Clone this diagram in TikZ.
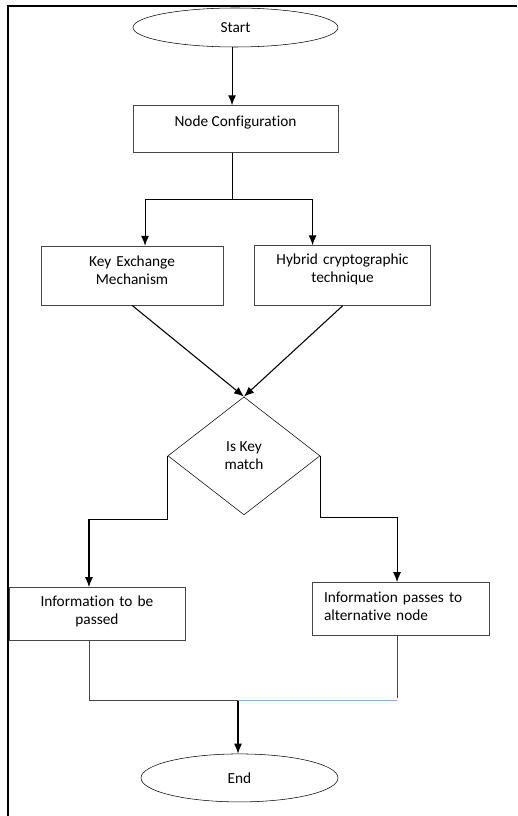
\documentclass[tikz,border=0pt]{standalone}
\usepackage{fontspec}
\setmainfont[Ligatures={NoCommon}]{Carlito}
\usepackage{tikz}
\usetikzlibrary{positioning,shapes,arrows.meta,calc}
\definecolor{linkblue}{RGB}{142,170,219}
\definecolor{boxgray}{RGB}{70,70,70}
\tikzstyle{term} = [ellipse, draw, thin, inner sep=0pt, text centered]
\tikzstyle{box1} = [rectangle, draw=boxgray, thin, inner ysep=0pt, text centered, align=center]
\tikzstyle{box1b} = [rectangle, draw=boxgray, thin, inner ysep=0pt, align=left]
\tikzstyle{decision} = [diamond, draw, thin, aspect=1.29, inner sep=0pt, align=center]
\tikzstyle{line} = [draw, thick, -{Latex[length=7.5pt,width=6pt]}]
\tikzstyle{thinline} = [draw, boxgray, thin]

\begin{document}
\begin{tikzpicture}[x=0.75pt, y=0.75pt, font=\fontsize{11.5}{13.5}\selectfont]
   \useasboundingbox (0,0) rectangle (517,-816);
   % Frame
   \draw[line width=1.5pt] (8,-816) -- (8,-6) -- (517,-6);

% Start %%%%%%%%%%%%%%%%%%%%%%%%%%%%%%%%%%%%%%%%%%%%%%%%%%%%%%%%%%%%%
   \node[term, minimum width=153.75pt, minimum height=29.25pt] (Start) at (235.5,-27.5) {Start};

   \node[box1, below=43.5pt of Start, minimum width=153.75pt, minimum height=35.25pt,
      text height=15.75pt, text depth=19.5pt](NodeConf){%
      Node Configuration};

% Two parallel steps %%%%%%%%%%%%%%%%%%%%%%%%%%%%%%%%%%%%%%%%%%%%%%%%
   \node[box1, below=69.75pt of NodeConf, xshift=-77.6pt, minimum width=136.5pt,
      minimum height=44.25pt, text width=120pt, text height=15pt, text depth=29.25pt](KeyExch){%
      Key Exchange\\Mechanism};

   \node[box1, right=23.25pt of KeyExch, minimum width=132pt, minimum height=45pt,
      text width=120pt, text height=14.25pt, text depth=30.75pt](Hybrid){%
      Hybrid cryptographic\\technique};

% JUNCTION: Is key match? %%%%%%%%%%%%%%%%%%%%%%%%%%%%%%%%%%%%%%%%%%%
   \coordinate (midsteps) at ($(KeyExch.south)!0.5!(Hybrid.south)$);
   \node[decision, below=68.25pt of midsteps, xshift=5pt, minimum width=114pt,
      minimum height=88.5pt](KeyMatch){Is Key\\match};

% Outcomes %%%%%%%%%%%%%%%%%%%%%%%%%%%%%%%%%%%%%%%%%%%%%%%%%%%%%%%%%%
   \node[box1, below=54pt of KeyMatch, xshift=-110.25pt, minimum width=132pt,
      minimum height=39.75pt, text width=120pt, text height=14.25pt, text depth=25.5pt](InfoPass){%
      Information to be\\passed};

   \node[box1b, below=50.25pt of KeyMatch, xshift=117.4pt, minimum width=132.75pt,
      minimum height=39.75pt, inner xsep=9pt, text width=114.75pt,
      text height=15pt, text depth=24.75pt](InfoAlt){%
      Information passes to\\alternative node};

% End %%%%%%%%%%%%%%%%%%%%%%%%%%%%%%%%%%%%%%%%%%%%%%%%%%%%%%%%%%%%%%%
   \node[term, below=84.75pt of InfoPass, xshift=106.9pt, minimum width=147.75pt,
      minimum height=36pt](End){End};

   \coordinate (split) at ($(NodeConf.south)+(3.5,-47)$);
   \coordinate (merge) at ($(End.north)+(-1.5,53)$);

   % Draw edges
   % Main spine
   \path [line] ([xshift=-2.6pt]Start.south) -- ([xshift=-2.6pt]NodeConf.north);
   \path [draw, thick, -] ([xshift=-2.6pt]NodeConf.south) |- ([xshift=-2.6pt]split);
   \path [line] ([xshift=-2.6pt]split) -| ([xshift=9.75pt]KeyExch.north);
   \path [line] ([xshift=-2.6pt]split) -| ([xshift=-22.5pt]Hybrid.north);
   \path [line] (KeyExch.south) -- (KeyMatch.north);
   \path [line] (Hybrid.south) -- (KeyMatch.north);

   % Junction: key match?
   \path [line] (KeyMatch.west) -- ++(0,-64) -| ([xshift=-6pt]InfoPass.north);
   \path [line] (KeyMatch.east) -- ++(0,-62) -| ([xshift=-2.6pt]InfoAlt.north);

   % Finish
   \path [thinline] ([xshift=-6pt]InfoPass.south) |- (merge);
   \path [thinline] ([xshift=-2.6pt]InfoAlt.south) -- ([xshift=-2.6pt,yshift=2.25pt]InfoAlt.south |- merge);
   \path [draw, linkblue, thin] ([xshift=-2.6pt]InfoAlt.south |- merge) -- (merge);
   \path [line] (merge) -- (End.north -| merge);

\end{tikzpicture}
\end{document}
